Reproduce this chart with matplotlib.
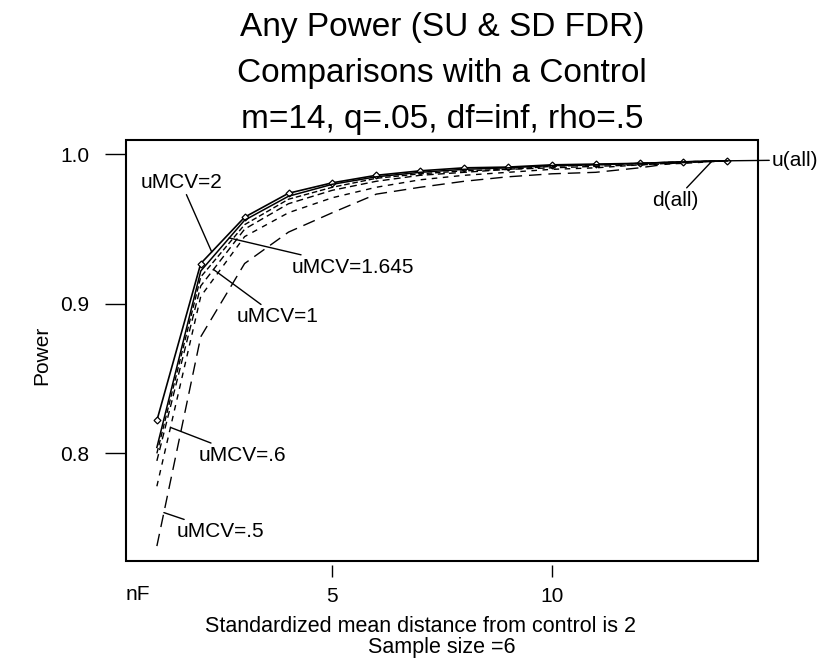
import numpy as np
import matplotlib
matplotlib.use('Agg')
import matplotlib.pyplot as plt
from matplotlib.patches import Rectangle

plt.rcParams['font.family'] = ['Liberation Sans', 'DejaVu Sans']

# number of false nulls
nf = np.arange(1, 15)

# power curves
p_umcv2 = [0.822, 0.927, 0.958, 0.974, 0.981, 0.986, 0.989, 0.991, 0.9915, 0.993, 0.9935, 0.994, 0.995, 0.9957]
p_umcv1645 = [0.804, 0.922, 0.956, 0.972, 0.980, 0.985, 0.988, 0.990, 0.991, 0.9925, 0.993, 0.994, 0.995, 0.9957]
p_umcv1 = [0.800, 0.918, 0.953, 0.970, 0.978, 0.984, 0.987, 0.989, 0.990, 0.992, 0.993, 0.994, 0.995, 0.9957]
p_sd = [0.795, 0.912, 0.950, 0.967, 0.976, 0.982, 0.986, 0.988, 0.990, 0.991, 0.992, 0.993, 0.9945, 0.9957]
p_umcv06 = [0.778, 0.905, 0.945, 0.961, 0.971, 0.978, 0.983, 0.986, 0.988, 0.990, 0.991, 0.993, 0.994, 0.9957]
p_umcv05 = [0.738, 0.878, 0.927, 0.948, 0.961, 0.9734, 0.978, 0.982, 0.985, 0.987, 0.988, 0.991, 0.995, 0.9957]

fig = plt.figure(figsize=(8.19, 6.63), dpi=100)
ax = fig.add_axes([0.1535, 0.1538, 0.772, 0.635])

ax.plot(nf, p_umcv2, color='black', lw=1.2, marker='D', ms=3.5, mfc='white', mec='black', mew=0.9)
ax.plot(nf, p_umcv1645, color='black', lw=1.1)
ax.plot(nf, p_umcv1, color='black', lw=1.0, dashes=(4, 2))
ax.plot(nf, p_sd, color='black', lw=1.0, dashes=(5, 3))
ax.plot(nf, p_umcv06, color='black', lw=1.0, dashes=(4, 4))
ax.plot(nf, p_umcv05, color='black', lw=1.0, dashes=(9, 5))

ax.set_xlim(0.29, 14.70)
ax.set_ylim(0.728, 1.0096)

# frame drawn by hand so the x ticks can sit a little below it
for s in ax.spines.values():
    s.set_visible(False)
ax.spines['bottom'].set_position(('outward', 3))
ax.add_patch(Rectangle((0, 0), 1, 1, transform=ax.transAxes, fill=False,
                       lw=1.5, ec='black', clip_on=False))

ax.set_xticks([5, 10])
ax.set_xticklabels(['5', '10'])
ax.set_yticks([0.8, 0.9, 1.0])
ax.set_yticklabels(['0.8', '0.9', '1.0'])
ax.tick_params(axis='x', direction='out', length=8.6, width=1, pad=7, labelsize=15)
ax.tick_params(axis='y', direction='out', length=15, width=1, pad=11, labelsize=15)

# leader-line labels
lead = dict(arrowstyle='-', color='black', lw=1.0, shrinkA=0, shrinkB=0)

def label(text, series, xp, xt, yt, ha='left'):
    yp = np.interp(xp, nf, series)
    ax.annotate(text, xy=(xp, yp), xytext=(xt, yt), ha=ha, va='center',
                fontsize=15, arrowprops=lead, annotation_clip=False)

label('uMCV=2', p_umcv2, 2.25, 1.55, 0.9813, ha='center')
label('uMCV=1.645', p_umcv1645, 2.65, 4.08, 0.9246)
label('uMCV=1', p_sd, 2.29, 2.82, 0.8914)
label('uMCV=.6', p_umcv06, 1.31, 1.96, 0.7987)
label('uMCV=.5', p_umcv05, 1.16, 1.45, 0.7476)
label('u(all)', p_umcv2, 14.0, 15.02, 0.9962)
label('d(all)', p_umcv05, 13.65, 12.81, 0.9694, ha='center')

# titles
cx = 0.5396
fig.text(cx, 1 - 36 / 663, 'Any Power (SU & SD FDR)', ha='center', va='baseline', fontsize=24)
fig.text(cx, 1 - 82 / 663, 'Comparisons with a Control', ha='center', va='baseline', fontsize=24)
fig.text(cx, 1 - 128 / 663, 'm=14, q=.05, df=inf, rho=.5', ha='center', va='baseline', fontsize=24)

fig.text(125.7 / 819, 1 - 595 / 663, 'nF', ha='left', va='center', fontsize=15)
fig.text(421 / 819, 1 - 627 / 663, 'Standardized mean distance from control is 2', ha='center', va='center', fontsize=15.5)
fig.text(442 / 819, 1 - 648 / 663, 'Sample size =6', ha='center', va='center', fontsize=15.5)
fig.text(42 / 819, 1 - 355 / 663, 'Power', ha='center', va='center', rotation=90, fontsize=15)

fig.savefig('out.png', dpi=100)
